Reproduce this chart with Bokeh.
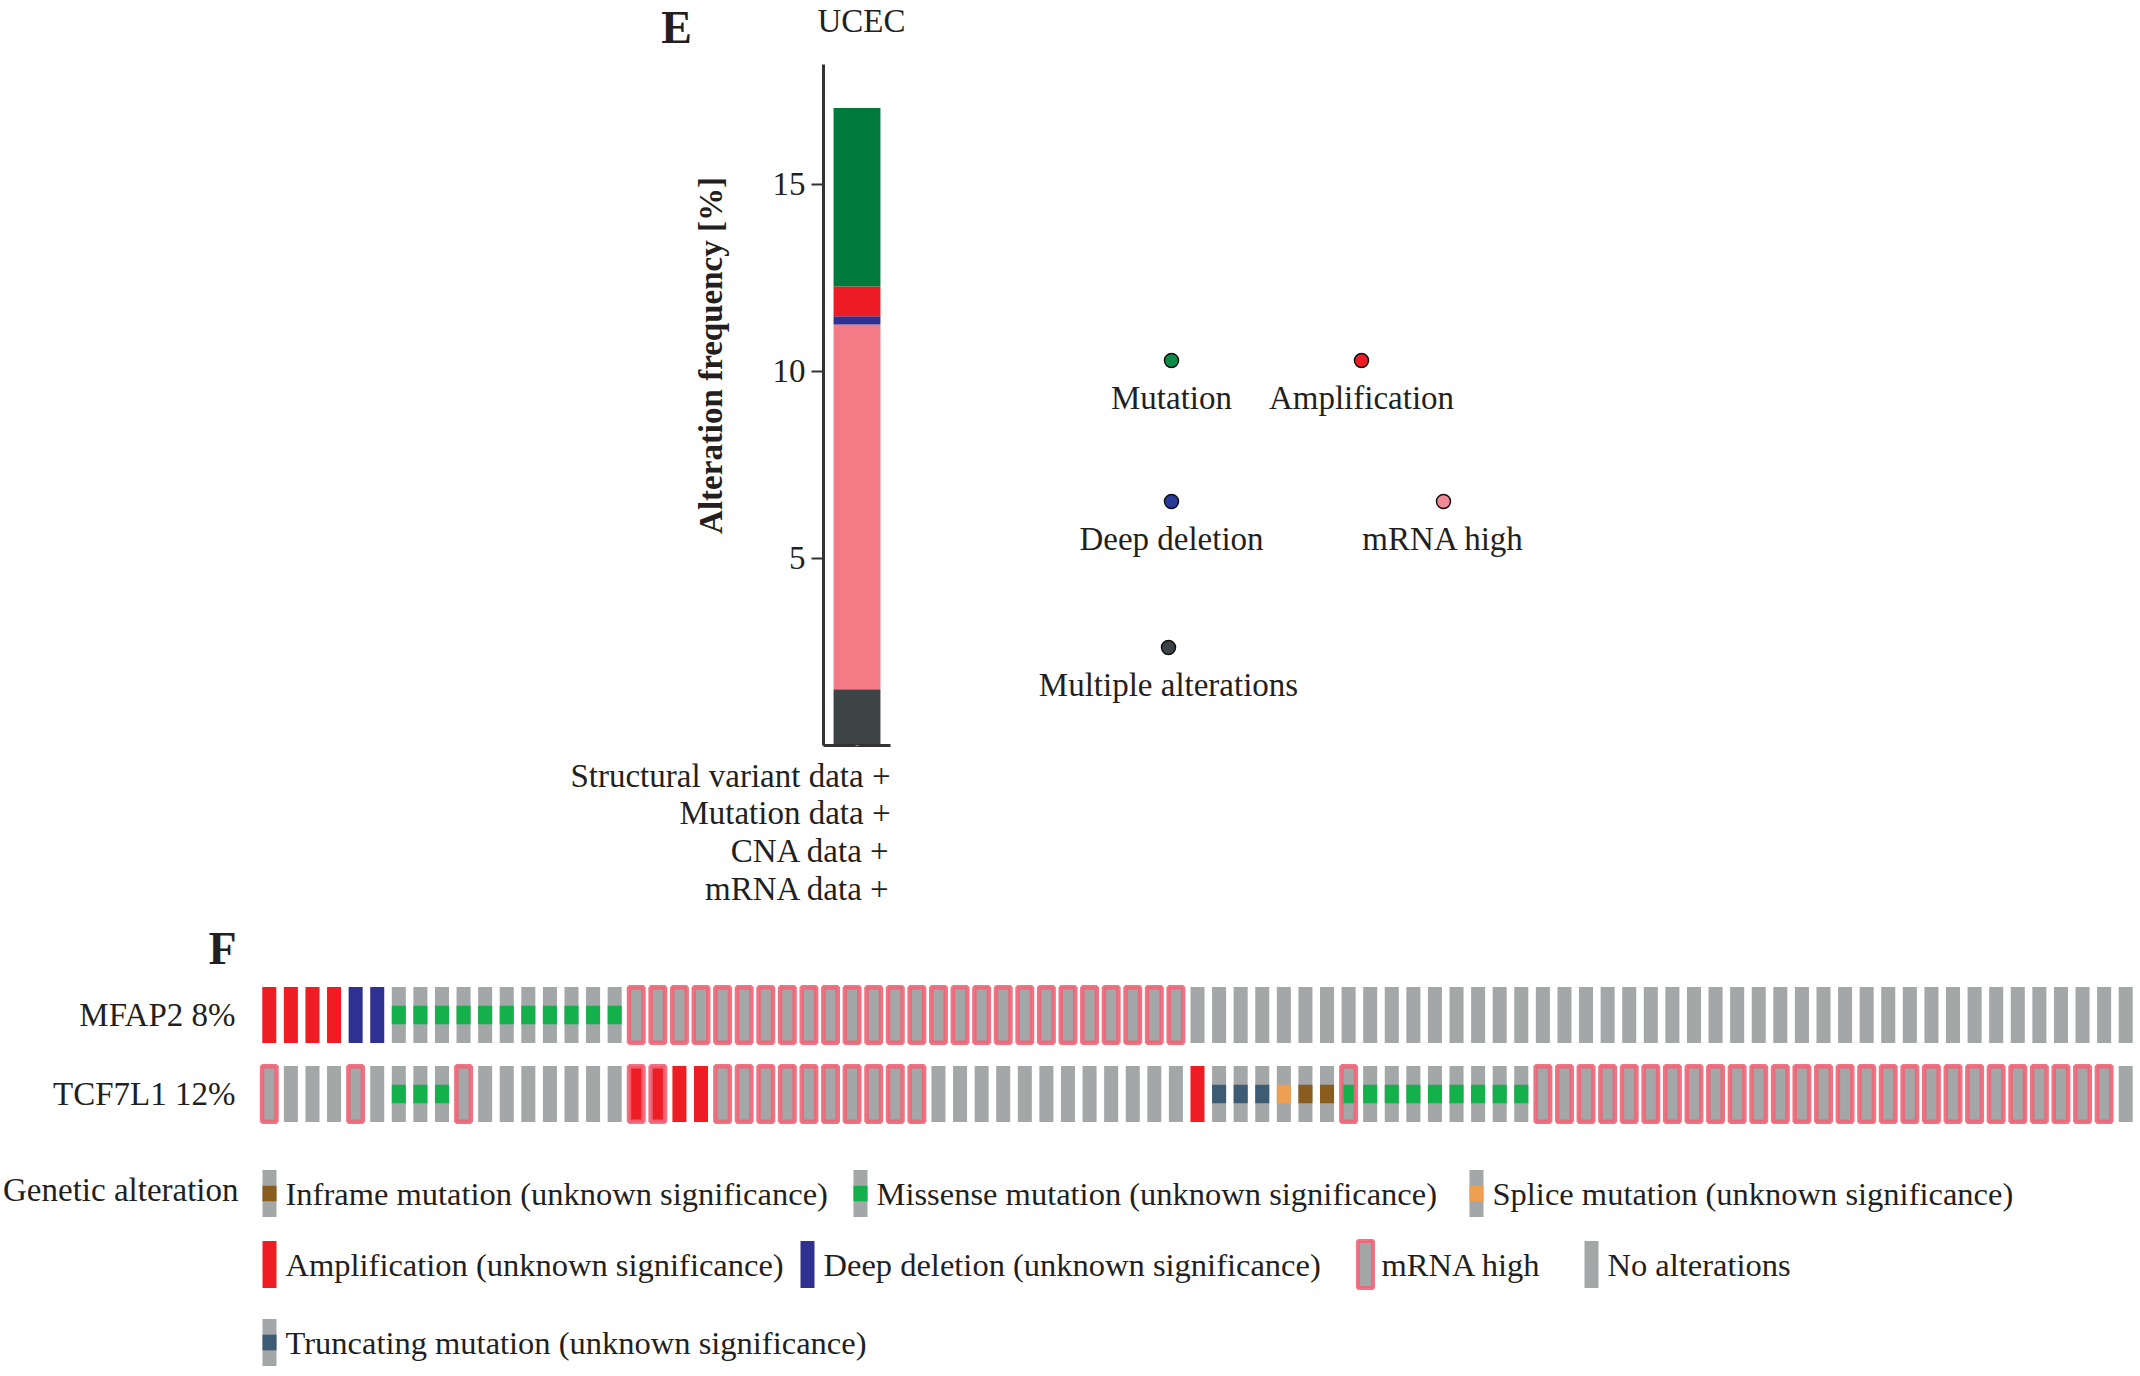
import math
from bokeh.plotting import figure
from bokeh.models import Range1d, FactorRange, FixedTicker, ColumnDataSource
from bokeh.layouts import column, row
from bokeh.embed import file_html
from bokeh.resources import INLINE
from bokeh.core.properties import value

FONT = "Liberation Serif"

# ---------------- Panel E data ----------------
cohort = ["UCEC"]
alt_types = ["Multiple alterations", "mRNA high", "Deep deletion", "Amplification", "Mutation"]
alt_freq = [1.5, 9.75, 0.22, 0.8, 4.77]
alt_colors = ["#3c4446", "#f27b85", "#2e3192", "#ed1c24", "#007a3d"]
y_ticks = [5, 10, 15]
y_title = "Alteration frequency [%]"
data_types = ["Structural variant data +", "Mutation data +", "CNA data +", "mRNA data +"]

e_legend_labels = ["Mutation", "Amplification", "Deep deletion", "mRNA high", "Multiple alterations"]
e_legend_colors = ["#108a48", "#ee1c24", "#2a3a99", "#f08a96", "#3a4446"]

# ---------------- Panel F data ----------------
genes = ["MFAP2", "TCF7L1"]
gene_pct = [8, 12]
mfap2_runs = [("amp", 4), ("homdel", 2), ("missense", 11), ("mrna", 26), ("none", 44)]
tcf7l1_runs = [("mrna", 1), ("none", 3), ("mrna", 1), ("none", 1), ("missense", 3),
               ("mrna", 1), ("none", 7), ("amp+mrna", 2), ("amp", 2), ("mrna", 10),
               ("none", 12), ("amp", 1), ("trunc", 3), ("splice", 1), ("inframe", 2),
               ("missense+mrna", 1), ("missense", 8), ("mrna", 27), ("none", 1)]

f_legend_labels = ["Inframe mutation (unknown significance)", "Missense mutation (unknown significance)",
                   "Splice mutation (unknown significance)", "Amplification (unknown significance)",
                   "Deep deletion (unknown significance)", "mRNA high", "No alterations",
                   "Truncating mutation (unknown significance)"]
f_legend_kinds = ["inframe", "missense", "splice", "amp", "homdel", "mrna", "none", "trunc"]

# ---------------- styles ----------------
GRAY = "#a3a7a8"
CNA_COL = {"amp": "#ee1d23", "homdel": "#2e3192"}
MUT_COL = {"missense": "#13b04b", "trunc": "#3e5b74", "splice": "#eea050", "inframe": "#8a5c1e"}
MRNA_LINE = "#f06475"
TXT = "#231f20"
PAGE_W = 2136


def clean(p):
    p.title.visible = False
    p.outline_line_color = None
    p.background_fill_color = "white"
    p.border_fill_color = "white"
    p.grid.visible = False
    return p


def canvas(w, h):
    p = figure(width=w, height=h, x_range=Range1d(0, w), y_range=Range1d(h, 0),
               output_backend="svg", toolbar_location=None, min_border=0,
               x_axis_location=None, y_axis_location=None, frame_align=False)
    return clean(p)


def put_text(p, xs, ys, texts, size, bold=False, align="left", angle=0.0):
    p.text(xs, ys, text=texts, text_font=value(FONT), text_font_size=value(size),
           text_font_style="bold" if bold else "normal", text_align=align,
           text_baseline="middle", text_color=TXT, angle=angle)


# ================= band 1 : panel letter + cohort name =================
T_H = 60
pT = canvas(PAGE_W, T_H)
put_text(pT, [676], [27], ["E"], "46px", bold=True, align="center")
put_text(pT, [861], [20], [cohort[0]], "33px", align="center")

# ================= band 2 : axis title | bar chart | legend =================
R_Y0, R_H = 60, 695
L_W = 760
pL = canvas(L_W, R_H)
put_text(pL, [710], [355 - R_Y0], [y_title], "33px", bold=True, align="center", angle=math.pi / 2)

A_X0, A_W = L_W, 200
A_FL, A_FR, A_FT, A_FB = 823, 890, 64, 745
Y_END = 18.2
pA = figure(width=A_W, height=R_H, x_range=FactorRange(factors=cohort, range_padding=0),
            y_range=Range1d(0, Y_END), output_backend="svg", toolbar_location=None,
            min_border_left=A_FL - A_X0, min_border_right=A_X0 + A_W - A_FR,
            min_border_top=A_FT - R_Y0, min_border_bottom=R_Y0 + R_H - A_FB, frame_align=False)
clean(pA)

src = ColumnDataSource(dict(cohort=cohort, **{t: [v] for t, v in zip(alt_types, alt_freq)}))
pA.vbar_stack(alt_types, x="cohort", width=0.7, color=alt_colors, line_color=None, source=src)

yax = pA.yaxis[0]
yax.ticker = FixedTicker(ticks=y_ticks)
yax.major_label_text_font = FONT
yax.major_label_text_font_size = "33px"
yax.major_label_text_color = TXT
yax.major_label_standoff = 6
yax.major_tick_out = 12
yax.major_tick_in = 0
yax.minor_tick_out = 0
yax.minor_tick_in = 0
yax.axis_line_width = 3
yax.axis_line_color = "#333333"
yax.major_tick_line_width = 2
yax.major_tick_line_color = "#333333"

xax = pA.xaxis[0]
xax.major_label_text_font_size = "1px"
xax.major_label_text_color = "white"
xax.major_label_standoff = 0
xax.major_tick_line_color = None
xax.major_tick_out = 0
xax.minor_tick_line_color = None
xax.axis_line_width = 3
xax.axis_line_color = "#333333"

B_X0 = A_X0 + A_W
pB = canvas(PAGE_W - B_X0, R_H)
e_pos = [(1171, 360), (1361, 360), (1171, 501), (1443, 501), (1168, 647)]  # layout, page px
ex = [p[0] - B_X0 for p in e_pos]
ey = [p[1] - R_Y0 for p in e_pos]
pB.scatter(ex, ey, size=14, fill_color=e_legend_colors, line_color="#111111", line_width=1.5)
put_text(pB, ex, [y + 37 for y in ey], e_legend_labels, "33px", align="center")

# ================= band 3 : data-type notes + panel letter F =================
N_Y0 = R_Y0 + R_H
N_H = 975 - N_Y0
pN = canvas(PAGE_W, N_H)
put_text(pN, [890] * len(data_types), [775 + 37.7 * i - N_Y0 for i in range(len(data_types))],
         data_types, "33px", align="right")
put_text(pN, [222], [948 - N_Y0], ["F"], "46px", bold=True, align="center")

# ================= band 4 : oncoprint =================
def expand(runs):
    out = []
    for code, n in runs:
        out += [code] * n
    return out

samples = {g: expand(r) for g, r in zip(genes, [mfap2_runs, tcf7l1_runs])}
n_samples = len(samples[genes[0]])
row_labels = [f"{g} {p}%" for g, p in zip(genes, gene_pct)]

C_H = 175
C_FL, C_FH = 258, 158
pC = figure(width=PAGE_W, height=C_H, x_range=Range1d(-0.5, n_samples - 0.5),
            y_range=FactorRange(factors=row_labels[::-1]), output_backend="svg",
            toolbar_location=None, min_border_left=C_FL, min_border_right=0,
            min_border_top=0, min_border_bottom=C_H - C_FH, x_axis_location=None,
            frame_align=False)
clean(pC)

BAR_W, BAR_H = 0.65, 0.71
base = dict(x=[], y=[], c=[])
mut = dict(x=[], y=[], c=[])
mr = dict(x=[], y=[])
for g, lab in zip(genes, row_labels):
    for i, code in enumerate(samples[g]):
        parts = code.split("+")
        col = GRAY
        for k in parts:
            if k in CNA_COL:
                col = CNA_COL[k]
        base["x"].append(i); base["y"].append(lab); base["c"].append(col)
        for k in parts:
            if k in MUT_COL:
                mut["x"].append(i); mut["y"].append(lab); mut["c"].append(MUT_COL[k])
            if k == "mrna":
                mr["x"].append(i); mr["y"].append(lab)

pC.rect("x", "y", width=BAR_W, height=BAR_H, fill_color="c", line_color=None,
        source=ColumnDataSource(base))
pC.rect("x", "y", width=BAR_W, height=BAR_H / 3, fill_color="c", line_color=None,
        source=ColumnDataSource(mut))
pC.rect("x", "y", width=0.67, height=0.70, fill_color=None, line_color=MRNA_LINE,
        line_width=4.5, line_alpha=0.9, source=ColumnDataSource(mr))

cy = pC.yaxis[0]
cy.axis_line_color = None
cy.major_tick_line_color = None
cy.minor_tick_line_color = None
cy.major_tick_out = 0
cy.major_label_text_font = FONT
cy.major_label_text_font_size = "33px"
cy.major_label_text_color = TXT
cy.major_label_standoff = 23

# ================= band 5 : legend of F =================
D_Y0, D_H = 1150, 222
pD = canvas(PAGE_W, D_H)
f_pos = [(269, 1193), (860, 1193), (1476, 1193), (269, 1264), (807, 1264),
         (1365, 1264), (1591, 1264), (269, 1342)]  # layout, page px
fx = [p[0] for p in f_pos]
fy = [p[1] - D_Y0 for p in f_pos]
SW, SH = 14, 47
sw_col = [CNA_COL.get(k, GRAY) for k in f_legend_kinds]
pD.rect(fx, fy, width=SW, height=SH, fill_color=sw_col, line_color=None)
mi = [i for i, k in enumerate(f_legend_kinds) if k in MUT_COL]
pD.rect([fx[i] for i in mi], [fy[i] for i in mi], width=SW, height=SH / 3,
        fill_color=[MUT_COL[f_legend_kinds[i]] for i in mi], line_color=None)
ri = [i for i, k in enumerate(f_legend_kinds) if k == "mrna"]
pD.rect([fx[i] for i in ri], [fy[i] for i in ri], width=15, height=SH,
        fill_color=None, line_color=MRNA_LINE, line_width=4, line_alpha=0.9)
put_text(pD, [x + 16 for x in fx], fy, f_legend_labels, "32.5px")
put_text(pD, [238], [1189 - D_Y0], ["Genetic alteration"], "33px", align="right")

layout = column(pT, row(pL, pA, pB), pN, pC, pD)
open("out.html", "w").write(file_html(layout, INLINE))
